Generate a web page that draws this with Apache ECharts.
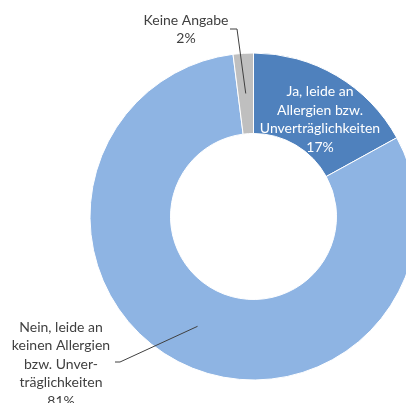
<!DOCTYPE html>
<html>
<head>
<meta charset="utf-8">
<script src="https://cdn.jsdelivr.net/npm/echarts@6/dist/echarts.min.js"></script>
<style>
  html, body { margin: 0; padding: 0; background: #fff; }
  #chart { width: 406px; height: 403px; }
</style>
</head>
<body>
<div id="chart"></div>
<script>
// answers, clockwise from the top
let categories = ["Ja, leide an Allergien bzw. Unverträglichkeiten", "Nein, leide an keinen Allergien bzw. Unverträglichkeiten", "Keine Angabe"];
let labelTexts = ["Ja, leide an\nAllergien bzw.\nUnverträglichkeiten", "Nein, leide an\nkeinen Allergien\nbzw. Unver-\nträglichkeiten", "Keine Angabe"];
let percentages = [17, 81, 2];
let sliceColors = ["#4f81bd", "#8eb4e3", "#bfbfbf"];

// geometry of the ring (pixels)
let cx = 253.5, cy = 216.5, innerR = 83, outerR = 163.5;
// where each label sits, and the elbow of its leader line
let labelPos = [[320, 119.5], [61, 364], [186, 29.5]];
let lineStart = [null, [[115, 362], [120, 362]], [[230, 29], [237, 29]]];

let total = percentages.reduce((a, b) => a + b, 0);

// middle of a slice, halfway through the ring
function sliceAnchor(i) {
    let cum = 0;
    for (let k = 0; k < i; k++) cum += percentages[k];
    let a = (cum + percentages[i] / 2) / total * Math.PI * 2;
    let rm = (innerR + outerR) / 2;
    return [cx + rm * Math.sin(a), cy - rm * Math.cos(a)];
}

let pieData = [];
for (let i = 0; i < categories.length; i++) {
    let inside = i == 0;
    pieData.push({
        name: categories[i],
        value: percentages[i],
        itemStyle: { color: sliceColors[i] },
        label: {
            position: inside ? "inside" : "outside",
            color: inside ? "#ffffff" : "#404040"
        },
        labelLine: { show: false }
    });
}

// leader lines are drawn on top of the ring, like the original
let leaders = [];
for (let i = 0; i < categories.length; i++) {
    if (!lineStart[i]) continue;
    leaders.push({
        type: "polyline",
        z: 100,
        silent: true,
        shape: { points: [lineStart[i][0], lineStart[i][1], sliceAnchor(i)] },
        style: { stroke: "#404040", lineWidth: 1, fill: null }
    });
}

let chart = echarts.init(document.getElementById("chart"));
chart.setOption({
    animation: false,
    graphic: leaders,
    series: [
        {
            type: "pie",
            center: [cx, cy],
            radius: [innerR, outerR],
            startAngle: 90,
            clockwise: true,
            avoidLabelOverlap: false,
            itemStyle: { borderColor: "#ffffff", borderWidth: 1 },
            label: {
                fontFamily: "Lato",
                fontSize: 14,
                lineHeight: 18.5,
                align: "center",
                formatter: function (p) {
                    return labelTexts[p.dataIndex] + "\n" + p.value + "%";
                }
            },
            labelLayout: function (params) {
                let i = params.dataIndex;
                return {
                    x: labelPos[i][0],
                    y: labelPos[i][1],
                    align: "center",
                    verticalAlign: "middle"
                };
            },
            data: pieData
        }
    ]
});
</script>
</body>
</html>
